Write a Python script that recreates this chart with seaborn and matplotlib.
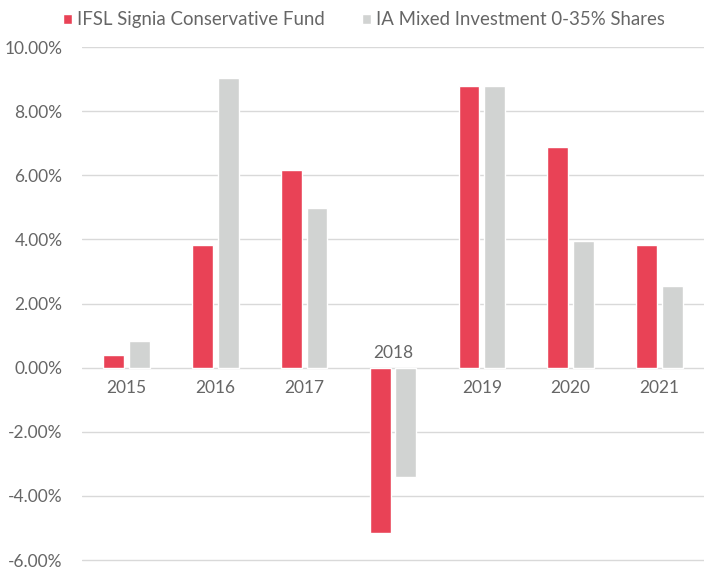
import matplotlib
matplotlib.use("Agg")
import matplotlib.pyplot as plt
import seaborn as sns
import pandas as pd
from matplotlib.ticker import FuncFormatter

years = ["2015", "2016", "2017", "2018", "2019", "2020", "2021"]
fund_name = "IFSL Signia Conservative Fund"
sector_name = "IA Mixed Investment 0-35% Shares"
fund = [0.40, 3.84, 6.16, -5.17, 8.77, 6.88, 3.84]
sector = [0.84, 9.03, 4.98, -3.41, 8.77, 3.94, 2.55]

df = pd.DataFrame({
    "Year": years * 2,
    "Series": [fund_name] * len(years) + [sector_name] * len(years),
    "Return": fund + sector,
})

sns.set_theme(style="white")
plt.rcParams["font.family"] = ["Lato", "DejaVu Sans"]

TXT = "#666666"

fig = plt.figure(figsize=(7.04, 5.70), dpi=100)
ax = fig.add_axes([0.1165, 0.0119, 0.8835, 0.9056])

palette = {fund_name: "#E94256", sector_name: "#D1D3D2"}
sns.barplot(data=df, x="Year", y="Return", hue="Series", palette=palette,
            width=0.58, gap=0.19, ax=ax, legend=True, saturation=1)

ax.set_ylim(-6.1, 10)
ax.set_yticks([-6, -4, -2, 0, 2, 4, 6, 8, 10])
ax.yaxis.set_major_formatter(FuncFormatter(lambda v, p: f"{v:.2f}%"))
ax.tick_params(axis="y", labelsize=12.5, colors=TXT, length=0, pad=14)
ax.grid(axis="y", color="#D9D9D9", linewidth=1)
ax.set_axisbelow(True)
for s in ax.spines.values():
    s.set_visible(False)
ax.set_xlabel("")
ax.set_ylabel("")
ax.set_xticks([])

# category labels next to the zero line
mins = [min(a, b) for a, b in zip(fund, sector)]
for i, (yr, m) in enumerate(zip(years, mins)):
    if m < 0:
        ax.annotate(yr, (i, 0), xytext=(0, 5), textcoords="offset points",
                    ha="center", va="bottom", fontsize=12.5, color=TXT)
    else:
        ax.annotate(yr, (i, 0), xytext=(0, -9), textcoords="offset points",
                    ha="center", va="top", fontsize=12.5, color=TXT)

handles, labels = ax.get_legend_handles_labels()
leg = fig.legend(handles, labels, loc="center", bbox_to_anchor=(0.517, 0.965),
                 ncol=2, frameon=False, fontsize=13.4, handlelength=0.5,
                 handleheight=0.5, handletextpad=0.25, columnspacing=2.0,
                 labelcolor=TXT)
ax.get_legend().remove()

fig.savefig("out.png", dpi=100)
